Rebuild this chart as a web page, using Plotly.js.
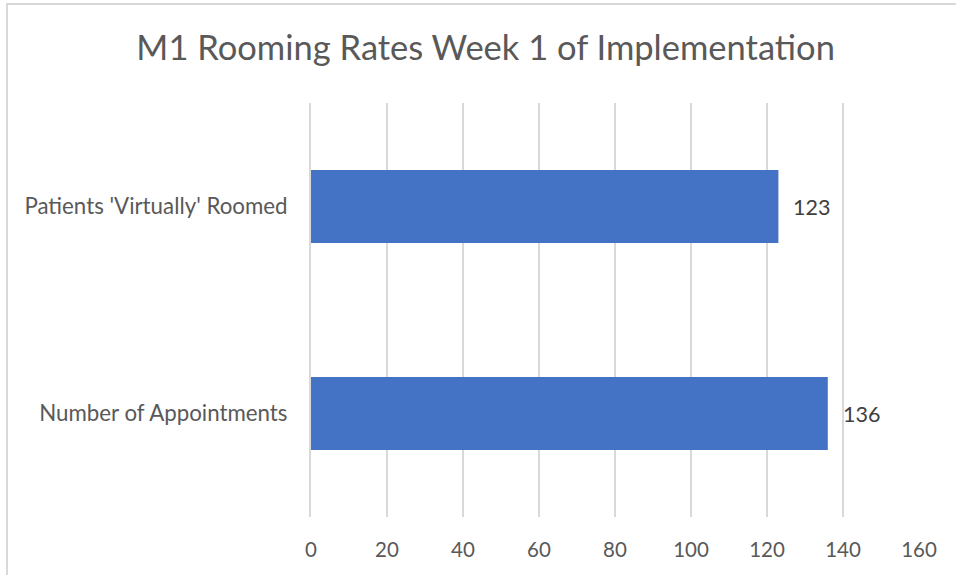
<!DOCTYPE html>
<html>
<head>
<meta charset="utf-8">
<script src="https://cdn.plot.ly/plotly-3.0.1.min.js"></script>
<style>
html,body{margin:0;padding:0;background:#fff;overflow:hidden;}
#wrap{position:relative;width:956px;height:575px;}
#chart{position:absolute;left:0;top:0;width:956px;height:575px;}
#frame{position:absolute;left:6px;top:3px;width:960px;height:590px;border:2px solid #d9d9d9;box-sizing:border-box;pointer-events:none;}
</style>
</head>
<body>
<div id="wrap"><div id="chart"></div><div id="frame"></div></div>
<script>
var categories = ["Number of Appointments", "Patients 'Virtually' Roomed"];
var values = [136, 123];
var xTicks = [0, 20, 40, 60, 80, 100, 120, 140, 160];
var chartTitle = "M1 Rooming Rates Week 1 of Implementation";

var font = "Lato, 'Open Sans', sans-serif";

var trace = {
  type: 'bar',
  orientation: 'h',
  y: categories,
  x: values,
  marker: {color: '#4472C4'},
  hoverinfo: 'skip'
};

var annotations = categories.map(function(c, i){
  return {x: values[i], y: c, xref: 'x', yref: 'y', text: String(values[i]),
    showarrow: false, xanchor: 'left', yanchor: 'middle', xshift: 13,
    font: {family: font, size: 21.5, color: '#404040'}};
});

var layout = {
  width: 956, height: 575,
  margin: {l: 311, r: 37, t: 103, b: 58},
  paper_bgcolor: '#fff', plot_bgcolor: '#fff',
  showlegend: false,
  bargap: 0.647,
  title: {text: chartTitle, x: 0.508, xanchor: 'center', y: 0.916, yanchor: 'middle',
    font: {family: font, size: 34.5, color: '#595959'}},
  xaxis: {range: [0, 160], tickvals: xTicks, ticktext: xTicks.map(String),
    showgrid: true, gridcolor: '#d9d9d9', gridwidth: 2, zeroline: false,
    showline: false, ticks: '', ticklabelstandoff: 18,
    tickfont: {family: font, size: 20.5, color: '#595959'}, fixedrange: true},
  yaxis: {type: 'category', showgrid: false, zeroline: false, showline: true,
    linecolor: '#d9d9d9', linewidth: 2, ticks: '', ticklabelstandoff: 17,
    tickfont: {family: font, size: 22.3, color: '#595959'}, fixedrange: true},
  annotations: annotations
};

Plotly.newPlot('chart', [trace], layout, {displayModeBar: false, staticPlot: true});
</script>
</body>
</html>
